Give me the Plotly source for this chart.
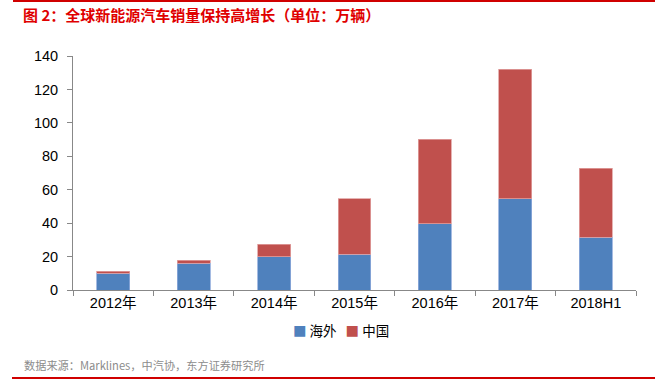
import plotly.graph_objects as go

categories = ["2012年", "2013年", "2014年", "2015年", "2016年", "2017年", "2018H1"]
overseas = [9.9, 16.0, 20.0, 21.5, 39.5, 54.5, 31.5]
china = [1.3, 1.8, 7.5, 33.1, 50.7, 77.7, 41.2]
yticks = [0, 20, 40, 60, 80, 100, 120, 140]
series_names = ["海外", "中国"]
series_colors = ["#4F81BD", "#C0504D"]

FONT = "Liberation Sans, Arial, Noto Sans CJK SC, sans-serif"
CJK = "Noto Sans CJK SC, sans-serif"

L, R, T, B = 73, 25, 56, 90
W, H = 661, 380
pw, ph = W - L - R, H - T - B

def px(x):
    return (x - L) / pw

def py(y):
    return (H - B - y) / ph

fig = go.Figure()
fig.add_trace(go.Bar(name=series_names[0], x=categories, y=overseas,
                     marker=dict(color=series_colors[0], line=dict(color="#8EAADB", width=0.8))))
fig.add_trace(go.Bar(name=series_names[1], x=categories, y=china,
                     marker=dict(color=series_colors[1], line=dict(color="#E0A0A0", width=0.8))))

legend_text = (f'<span style="color:{series_colors[0]}">■</span>&nbsp;{series_names[0]}'
               f'&nbsp;&nbsp;&nbsp;<span style="color:{series_colors[1]}">■</span>&nbsp;{series_names[1]}')

fig.update_layout(
    barmode="stack",
    bargap=0.59,
    width=W, height=H,
    margin=dict(l=L, r=R, t=T, b=B, autoexpand=False),
    paper_bgcolor="white", plot_bgcolor="white",
    font=dict(family=FONT, size=14, color="#000"),
    showlegend=False,
    xaxis=dict(type="category", tickson="boundaries", ticks="outside", ticklen=5,
               tickcolor="#888", showline=True, linecolor="#888", linewidth=1,
               showgrid=False, tickfont=dict(size=14.5, family=FONT)),
    yaxis=dict(range=[0, 140], tickvals=yticks, ticks="outside", ticklen=5, tickcolor="#888",
               showline=True, linecolor="#888", linewidth=1, showgrid=False, zeroline=False,
               ticklabelstandoff=6,
               tickfont=dict(size=14.5, family=FONT)),
    annotations=[
        dict(text="<b>图 2：全球新能源汽车销量保持高增长（单位：万辆）</b>", xref="paper", yref="paper",
             x=px(21), y=py(15), xanchor="left", yanchor="middle", showarrow=False,
             font=dict(size=15, color="#E00000", family=CJK)),
        dict(text=legend_text, xref="paper", yref="paper",
             x=px(341), y=py(330), xanchor="center", yanchor="middle", showarrow=False,
             font=dict(size=13.5, color="#000", family=CJK)),
        dict(text="数据来源：Marklines，中汽协，东方证券研究所", xref="paper", yref="paper",
             x=px(22), y=py(365), xanchor="left", yanchor="middle", showarrow=False,
             font=dict(size=11.2, color="#8C8C8C", family=CJK)),
    ],
    shapes=[
        dict(type="line", xref="paper", yref="paper", x0=px(13), x1=px(655), y0=py(1), y1=py(1),
             line=dict(color="#D00000", width=2)),
        dict(type="line", xref="paper", yref="paper", x0=px(12), x1=px(655), y0=py(378), y1=py(378),
             line=dict(color="#D00000", width=2)),
    ],
)

fig.write_html("out.html", config={"displayModeBar": False},
               post_script="document.body.style.margin='0';document.body.style.padding='0';")
